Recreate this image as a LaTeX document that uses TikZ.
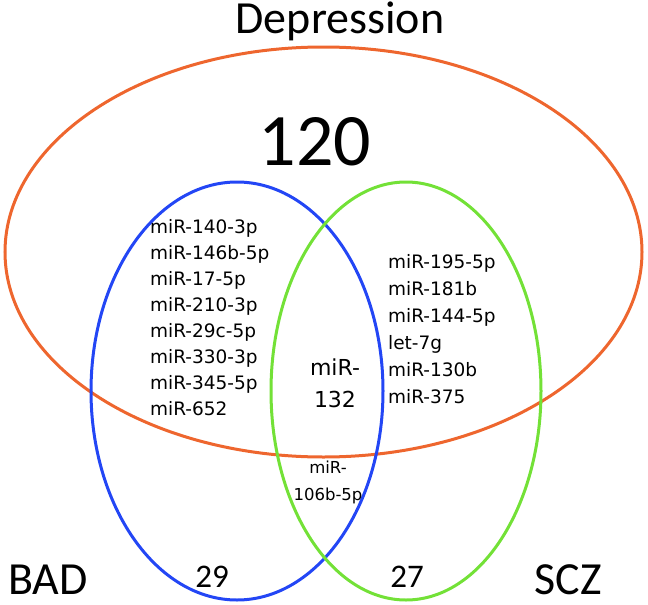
\documentclass[tikz,border=0pt]{standalone}
\usepackage{fontspec}
\setmainfont{Carlito}
\newfontfamily\mirfont{DejaVu Sans}
\definecolor{dep}{RGB}{238,102,46}
\definecolor{bad}{RGB}{35,70,245}
\definecolor{scz}{RGB}{115,225,55}
\tikzset{set/.style  = {line width=3pt},
           mir/.style  = {anchor=base west, inner sep=0pt, font=\mirfont\fontsize{18.5}{22}\selectfont},
           mid/.style  = {anchor=base, inner sep=0pt, font=\mirfont\fontsize{22}{26}\selectfont},
           sml/.style  = {anchor=base, inner sep=0pt, font=\mirfont\fontsize{16.5}{20}\selectfont},
           ttl/.style  = {anchor=base, inner sep=0pt, font=\fontsize{46}{50}\selectfont},
           cnt/.style  = {anchor=base, inner sep=0pt, font=\fontsize{33}{36}\selectfont}}

\begin{document}
\begin{tikzpicture}[x=1pt, y=-1pt]
    \useasboundingbox (0,0) rectangle (648,605);
    \draw[set, dep] (323.5,252) ellipse [x radius=318.5, y radius=205];
    \draw[set, bad] (237,391) ellipse [x radius=146, y radius=209];
    \draw[set, scz] (406,391) ellipse [x radius=135, y radius=209];
    \node[ttl] (dtitle) at (340,33) {Depression};
    \node[anchor=base, inner sep=0pt, font=\fontsize{74}{80}\selectfont] (dnum) at (315,165) {120};
    \node[ttl] (btitle) at (48,594) {BAD};
    \node[ttl] (stitle) at (568,594) {SCZ};
    \node[cnt] (bnum) at (212,587) {29};
    \node[cnt] (snum) at (407,587) {27};
    \foreach \m [count=\i] in {miR-140-3p, miR-146b-5p, miR-17-5p, miR-210-3p,
                                  miR-29c-5p, miR-330-3p, miR-345-5p, miR-652}
      \node[mir] (db\i) at (150,{233+26*(\i-1)}) {\m};
    \foreach \m [count=\i] in {miR-195-5p, miR-181b, miR-144-5p, let-7g,
                                  miR-130b, miR-375}
      \node[mir] (ds\i) at (388,{268+27*(\i-1)}) {\m};
    \node[mid] (all1) at (335,375) {miR-};
    \node[mid] (all2) at (335,407) {132};
    \node[sml] (bs1) at (328,473) {miR-};
    \node[sml] (bs2) at (328,500) {106b-5p};
\end{tikzpicture}
\end{document}
